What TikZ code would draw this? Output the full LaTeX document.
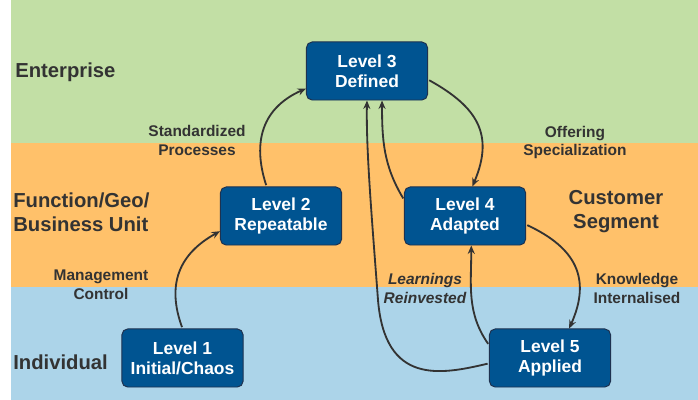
\documentclass[tikz,border=0pt]{standalone}
\usepackage{fontspec}
\setmainfont{Liberation Sans}
\usetikzlibrary{arrows.meta}

\definecolor{bandgreen}{RGB}{194,223,165}
\definecolor{bandorange}{RGB}{255,193,106}
\definecolor{bandblue}{RGB}{172,212,233}
\definecolor{stagefill}{RGB}{0,84,145}
\definecolor{stageedge}{RGB}{30,50,80}
\definecolor{inkgray}{RGB}{51,51,51}

\begin{document}
\begin{tikzpicture}
[x=0.025cm, y=0.025cm, font=\bfseries, text=inkgray,
stage/.style={draw=stageedge, line width=0.7pt, fill=stagefill, rounded corners=4pt, text=white, align=center, inner sep=0pt, minimum width=3.025cm, minimum height=1.45cm, font=\bfseries\fontsize{12.4}{14.2}\selectfont},
band/.style={align=left, anchor=west, inner sep=0pt, font=\bfseries\fontsize{14.4}{17}\selectfont},
note/.style={align=center, font=\bfseries\fontsize{11}{13.5}\selectfont},
flow/.style={draw=inkgray, line width=1.3pt, shorten <=1pt, -{Stealth[length=6pt,width=5pt]}}]
\useasboundingbox (0,0) rectangle (698,400);

% bands
\fill[bandgreen] (11,257) rectangle (698,400);
\fill[bandorange] (11,113) rectangle (698,257);
\fill[bandblue] (11,0) rectangle (698,113);

\node[band] (enterprise) at (15,328) {Enterprise};
\node[band] (function) at (13,188) {Function/Geo/\\Business Unit};
\node[band] (individual) at (13,38) {Individual};
\node[band, align=center, anchor=center] (segment) at (616,188) {Customer\\Segment};

% levels
\node[stage] (lvl3) at (367,329) {Level 3\\Defined};
\node[stage] (lvl2) at (281,184) {Level 2\\Repeatable};
\node[stage] (lvl4) at (465,184) {Level 4\\Adapted};
\node[stage] (lvl1) at (182.5,42) {Level 1\\Initial/Chaos};
\node[stage] (lvl5) at (550,42) {Level 5\\Applied};

% labels
\node[note] (standard) at (197,259.5) {Standardized\\Processes};
\node[note] (offering) at (575,257.5) {Offering\\Specialization};
\node[note] (control) at (101,115) {Management\\Control};
\node[note, font=\bfseries\itshape\fontsize{11}{13.5}\selectfont] (learn) at (425,112) {Learnings\\Reinvested};
\node[note] (knowledge) at (637,112) {Knowledge\\Internalised};

% arrows
\coordinate (bend) at (378,100);
\draw[flow] (lvl1.north) to[out=110, in=209, looseness=1.15] (lvl2.194);
\draw[flow] (lvl2.116) to[out=108, in=204, looseness=1.15] (lvl3.196);
\draw[flow] (lvl3.-8) to[out=-29, in=67, looseness=1.25] (lvl4.76);
\draw[flow] (lvl4.165) to[out=121, in=-90] (lvl3.-63);
\draw[flow] (lvl5.185) .. controls (440,25) and (385,15) .. (bend)
  .. controls (372,180) and (366,250) .. (lvl3.south);
\draw[flow] (lvl5.168) to[out=125, in=-90] (lvl4.-78);
\draw[flow] (lvl4.-8) to[out=-25, in=66, looseness=1.25] (lvl5.57);
\end{tikzpicture}
\end{document}
